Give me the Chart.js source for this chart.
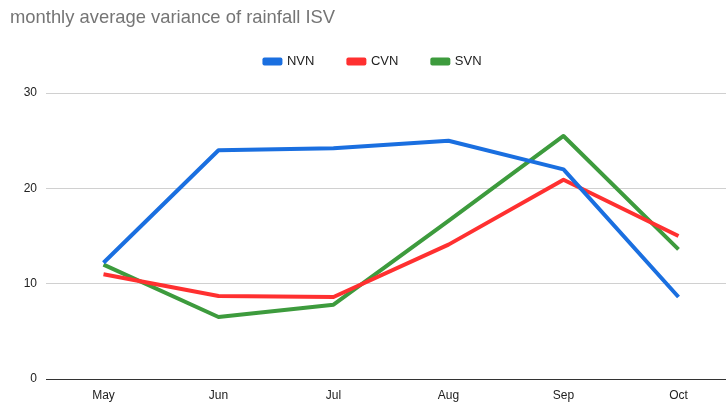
<!DOCTYPE html>
<html>
<head>
<meta charset="utf-8">
<script src="https://cdn.jsdelivr.net/npm/chart.js@4"></script>
<style>
  html, body { margin: 0; padding: 0; background: #fff; overflow: hidden; }
  #wrap { position: relative; width: 736px; height: 405px; }
</style>
</head>
<body>
<div id="wrap"><canvas id="miGrafico"></canvas></div>
<script>
const months = ["May", "Jun", "Jul", "Aug", "Sep", "Oct"];
const nvn = [12.2, 24.0, 24.2, 25.0, 22.0, 8.6];
const cvn = [11.0, 8.7, 8.6, 14.1, 20.9, 15.0];
const svn = [12.0, 6.5, 7.8, 16.6, 25.5, 13.6];
const yTicks = [0, 10, 20, 30];

const fontFamily = "'Liberation Sans', Arial, sans-serif";

let ctx = document.getElementById("miGrafico").getContext("2d");

// legend padding is wide for item spacing, so pull the legend up under the title
// and fix the gap to the plot
const legendGap = {
  id: "legendGap",
  beforeInit(chart) {
    const fit = chart.legend.fit;
    chart.legend.fit = function () {
      fit.bind(chart.legend)();
      this.height += 15;
    };
  },
};

let data = {
  labels: months,
  datasets: [
    { label: "NVN", data: nvn, borderColor: "#1a6fe0", backgroundColor: "#1a6fe0" },
    { label: "CVN", data: cvn, borderColor: "#ff3030", backgroundColor: "#ff3030" },
    { label: "SVN", data: svn, borderColor: "#3d9b3d", backgroundColor: "#3d9b3d" },
  ].map((d) => ({ ...d, borderWidth: 4, pointRadius: 0, tension: 0, borderJoinStyle: "round" })),
};

let options = {
  responsive: true,
  maintainAspectRatio: false,
  animation: false,
  layout: { padding: { left: 10, right: 0, top: 0, bottom: 0 } },
  plugins: {
    title: {
      display: true,
      text: "monthly average variance of rainfall ISV",
      align: "start",
      color: "#757575",
      font: { family: fontFamily, size: 18.4, weight: "normal" },
      padding: { top: 7, bottom: -8 },
    },
    legend: {
      display: true,
      labels: {
        boxWidth: 16,
        boxHeight: 4,
        color: "#222",
        font: { family: fontFamily, size: 13 },
        padding: 34,
      },
    },
    tooltip: { enabled: false },
  },
  scales: {
    x: {
      offset: true,
      afterFit: (scale) => { scale.height = 26; },
      grid: { display: false, drawTicks: false },
      border: { color: "#333", width: 1 },
      ticks: { color: "#222", font: { family: fontFamily, size: 12 }, padding: 9 },
    },
    y: {
      min: 0,
      max: 30,
      afterFit: (scale) => { scale.width = 36; },
      afterBuildTicks: (scale) => { scale.ticks = yTicks.map((v) => ({ value: v })); },
      grid: {
        drawTicks: false,
        color: (c) => (c.tick && c.tick.value === 0 ? "#333" : "#d0d0d0"),
      },
      border: { display: false },
      ticks: { color: "#222", font: { family: fontFamily, size: 12 }, padding: 9 },
    },
  },
};

let chart = new Chart(ctx, { type: "line", data: data, options: options, plugins: [legendGap] });
</script>
</body>
</html>
